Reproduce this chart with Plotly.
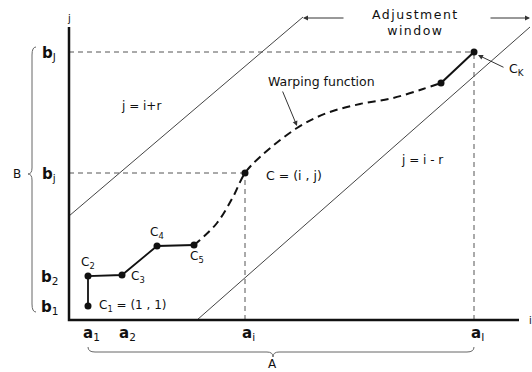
import plotly.graph_objects as go

# ---- data (units: diagram grid units) ----
path_labels = ["C1", "C2", "C3", "C4", "C5"]
path_x = [1.9, 1.9, 5.3, 8.8, 12.5]
path_y = [1.4, 4.4, 4.5, 7.4, 7.5]

warp_x = [12.5, 13.1, 14.8, 16.4, 17.6, 19.1, 22.8, 25.8, 29.1, 32.4, 35.4, 37.2]
warp_y = [7.5, 8.0, 9.7, 12.3, 14.7, 16.3, 19.2, 20.7, 21.6, 22.2, 23.1, 23.7]

end_x = [37.2, 40.5]
end_y = [23.7, 26.8]

c_point = (17.6, 14.7)

a_ticks = [1.9, 5.5, 17.6, 40.5]
a_subs = ["1", "2", "i", "I"]
b_ticks = [1.4, 4.4, 14.7, 26.8]
b_subs = ["1", "2", "j", "J"]

upper_x = [0.0, 23.4]      # j = i + r
upper_y = [10.4, 30.3]
lower_x = [12.8, 46.1]     # j = i - r
lower_y = [0.0, 29.3]

x_axis_max = 45.0
y_axis_max = 29.3

XR = [-6.9, 46.3]
YR = [-5.2, 32.0]

FONT = "DejaVu Sans"
INK = "#111111"

fig = go.Figure()

# dashed guide lines
guides = [
    ([0, c_point[0]], [c_point[1], c_point[1]]),
    ([c_point[0], c_point[0]], [0, c_point[1]]),
    ([0, end_x[-1]], [end_y[-1], end_y[-1]]),
    ([end_x[-1], end_x[-1]], [0, end_y[-1]]),
]
for gx, gy in guides:
    fig.add_trace(go.Scatter(x=gx, y=gy, mode="lines",
                             line=dict(color="#555555", width=1, dash="5px,4px"),
                             hoverinfo="skip", showlegend=False))

# adjustment window boundaries
fig.add_trace(go.Scatter(x=upper_x, y=upper_y, mode="lines",
                         line=dict(color="#444444", width=1), showlegend=False))
fig.add_trace(go.Scatter(x=lower_x, y=lower_y, mode="lines",
                         line=dict(color="#444444", width=1), showlegend=False))

# axes
fig.add_trace(go.Scatter(x=[0, 0, x_axis_max], y=[y_axis_max, 0, 0], mode="lines",
                         line=dict(color=INK, width=2.5), showlegend=False))

# warping path: solid start
fig.add_trace(go.Scatter(x=path_x, y=path_y, mode="lines+markers",
                         line=dict(color=INK, width=1.8),
                         marker=dict(color=INK, size=7), showlegend=False))
# dashed warping function
fig.add_trace(go.Scatter(x=warp_x, y=warp_y, mode="lines",
                         line=dict(color=INK, width=2, dash="8px,5px", shape="spline", smoothing=1.0),
                         showlegend=False))
# solid end
fig.add_trace(go.Scatter(x=end_x, y=end_y, mode="lines+markers",
                         line=dict(color=INK, width=2),
                         marker=dict(color=INK, size=7), showlegend=False))
fig.add_trace(go.Scatter(x=[c_point[0]], y=[c_point[1]], mode="markers",
                         marker=dict(color=INK, size=7), showlegend=False))

ann = []
def txt(x, y, t, size=12, xanchor="center", color=INK):
    ann.append(dict(x=x, y=y, text=t, showarrow=False,
                    xanchor=xanchor, yanchor="middle",
                    font=dict(family=FONT, size=size, color=color)))

for xv, s in zip(a_ticks, a_subs):
    txt(xv + 0.3, -1.3, f"<b>a</b><sub>{s}</sub>", size=15)
for yv, s in zip(b_ticks, b_subs):
    txt(-2.0, yv - 0.1, f"<b>b</b><sub>{s}</sub>", size=15)

txt(0, 30.2, "j", size=10)
txt(46.1, 0, "i", size=10)

txt(7.2, 21.4, "j = i+r", size=12)
txt(35.3, 16.0, "j = i - r", size=12)
txt(25.2, 23.9, "Warping function", size=12.5)
txt(34.6, 29.8, "<span style='letter-spacing:1.5px'>Adjustment</span><br><span style='letter-spacing:1.5px'>window</span>", size=12.5)
txt(22.5, 14.5, "C = (i , j)", size=12.5)
txt(2.8, 1.4, "C<sub>1</sub> = (1 , 1)", size=12, xanchor="left")
txt(1.9, 5.7, "C<sub>2</sub>", size=12)
txt(6.0, 4.3, "C<sub>3</sub>", size=12, xanchor="left")
txt(8.8, 8.7, "C<sub>4</sub>", size=12)
txt(12.8, 6.3, "C<sub>5</sub>", size=12)
txt(43.8, 25.1, "C<sub>K</sub>", size=12.5, xanchor="left")
txt(-5.2, 14.6, "B", size=12)
txt(20.3, -4.4, "A", size=12)

def arrow(hx, hy, tx, ty):
    ann.append(dict(x=hx, y=hy, ax=tx, ay=ty, xref="x", yref="y", axref="x", ayref="y",
                    text="", showarrow=True, arrowhead=2, arrowsize=1, arrowwidth=1,
                    arrowcolor="#333333"))

arrow(upper_x[1], 30.2, 27.6, 30.2)
arrow(lower_x[1], 30.2, 42.0, 30.2)
arrow(22.8, 19.4, 21.3, 23.0)
arrow(40.9, 26.5, 43.6, 25.2)

# braces
bx, btip, bhook = -3.7, -4.1, -3.3
b0, b1 = b_ticks[0] - 0.6, b_ticks[-1] + 0.5
bm = b_ticks[2] - 0.1
left_brace = (f"M {bhook},{b1} Q {bx},{b1} {bx},{b1-0.8} L {bx},{bm+0.6} "
              f"Q {bx},{bm} {btip},{bm} Q {bx},{bm} {bx},{bm-0.6} "
              f"L {bx},{b0+0.8} Q {bx},{b0} {bhook},{b0}")
by, bytip, byhook = -3.2, -3.7, -2.7
a0, a1 = a_ticks[0], a_ticks[-1]
am = 20.4
bottom_brace = (f"M {a0},{byhook} Q {a0},{by} {a0+0.7},{by} L {am-0.6},{by} "
                f"Q {am},{by} {am},{bytip} Q {am},{by} {am+0.6},{by} "
                f"L {a1-0.7},{by} Q {a1},{by} {a1},{byhook}")

shapes = [
    dict(type="path", path=left_brace, xref="x", yref="y", line=dict(color="#666666", width=1)),
    dict(type="path", path=bottom_brace, xref="x", yref="y", line=dict(color="#666666", width=1)),
]

fig.update_layout(
    width=532, height=372,
    margin=dict(l=0, r=0, t=0, b=0),
    paper_bgcolor="white", plot_bgcolor="white",
    xaxis=dict(range=XR, visible=False, fixedrange=True),
    yaxis=dict(range=YR, visible=False, fixedrange=True),
    annotations=ann, shapes=shapes, showlegend=False,
)

fig.write_html("out.html")
